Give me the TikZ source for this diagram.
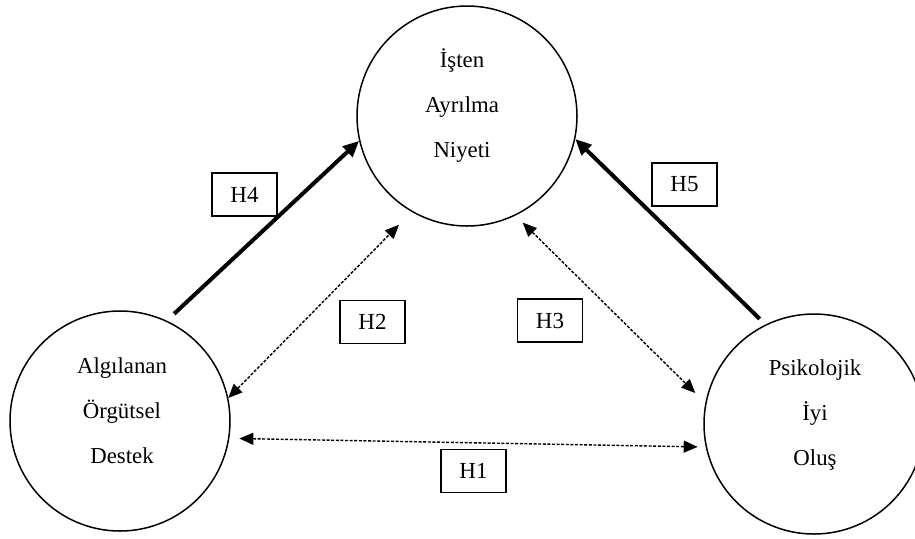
\documentclass[tikz,border=0pt]{standalone}
\usepackage{fontspec}
\setmainfont{Liberation Serif}
\usetikzlibrary{arrows.meta}
\tikzset{
  yapi/.style={circle,draw,line width=0.75pt,minimum size=110pt,inner sep=0pt},
  yazi/.style={align=center,inner sep=0pt,font=\fontsize{11.4}{22.5}\selectfont},
  hkutu/.style={draw,line width=0.6pt,minimum width=32.5pt,minimum height=21.5pt,inner sep=0pt,font=\fontsize{11.5}{13}\selectfont},
  guclu/.style={line width=2pt,-{Triangle[length=8pt,width=7pt]}},
  iliski/.style={line width=0.7pt,dash pattern=on 1.5pt off 0.8pt,{Triangle[length=7pt,width=6pt]}-{Triangle[length=7pt,width=6pt]}}
}
\begin{document}
\begin{tikzpicture}[x=0.5pt,y=-0.5pt]
\useasboundingbox (0,0) rectangle (915,538);
% kavramlar
\node[yapi] (isten) at (467,116) {};
\node[yapi] (alg) at (120,421) {};
\node[yapi] (psi) at (814,424) {};
\node[yazi] (isten-t) at (462,106) {İşten\\Ayrılma\\Niyeti};
\node[yazi] (alg-t) at (122,411) {Algılanan\\Örgütsel\\Destek};
\node[yazi] (psi-t) at (815,415) {Psikolojik\\İyi\\Oluş};
% hipotezler
\draw[guclu,shorten <=5pt] (alg.65) -- (isten.193);
\draw[guclu,shorten <=4pt] (psi.116) -- (isten.-12);
\draw[iliski,shorten >=9pt] (alg.12) -- (isten.240);
\draw[iliski,shorten <=5pt,shorten >=7pt] (isten.296) -- (psi.169);
\draw[iliski,shorten <=5pt,shorten >=4pt] (alg.-9) -- (psi.192);
\node[hkutu] (h4) at (244.5,194.5) {H4};
\node[hkutu] (h2) at (372.5,322) {H2};
\node[hkutu] (h5) at (684.5,184.5) {H5};
\node[hkutu] (h3) at (550,320.5) {H3};
\node[hkutu] (h1) at (473.5,471) {H1};
\end{tikzpicture}
\end{document}
